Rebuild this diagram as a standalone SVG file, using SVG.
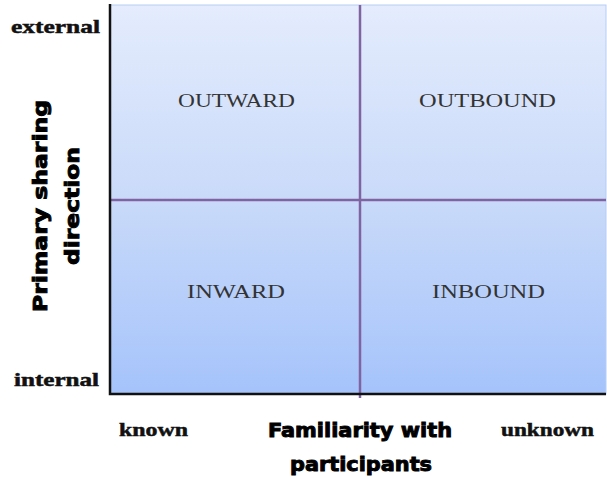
<svg xmlns="http://www.w3.org/2000/svg" width="607" height="479" viewBox="0 0 607 479">
<defs>
<linearGradient id="bg" x1="0" y1="0" x2="0" y2="1">
<stop offset="0" stop-color="#e4ecfd"/>
<stop offset="0.5" stop-color="#c9daf9"/>
<stop offset="1" stop-color="#a5c3fb"/>
</linearGradient>
</defs>
<style>
.tick{font-family:"Liberation Serif",serif;font-weight:bold;font-size:19px;fill:#111;stroke:#111;stroke-width:0.5}
.quad{font-family:"Liberation Serif",serif;font-size:19px;fill:#333}
.title{font-family:"DejaVu Sans",sans-serif;font-weight:900;font-size:19px;fill:#000;stroke:#000;stroke-width:0.9}
.div{stroke:#8064a2;stroke-width:2.5;fill:none}
.axis{stroke:#111;stroke-width:2.5;fill:none}
</style>
<rect x="110" y="5" width="496" height="389" fill="url(#bg)" stroke="#b8cdf2" stroke-width="1"/>
<g id="connectors">
<line class="div" x1="360" y1="5" x2="360" y2="398"/>
<line class="div" x1="110" y1="200" x2="606" y2="200"/>
<polyline class="axis" points="110,4 110,394 606,394"/>
</g>
<g id="q-outward"><text class="quad" x="178" y="107" textLength="117" lengthAdjust="spacingAndGlyphs">OUTWARD</text></g>
<g id="q-outbound"><text class="quad" x="419" y="107" textLength="137" lengthAdjust="spacingAndGlyphs">OUTBOUND</text></g>
<g id="q-inward"><text class="quad" x="187" y="298" textLength="98" lengthAdjust="spacingAndGlyphs">INWARD</text></g>
<g id="q-inbound"><text class="quad" x="432" y="298" textLength="113" lengthAdjust="spacingAndGlyphs">INBOUND</text></g>
<g id="labels">
<text class="tick" x="11" y="33" textLength="89" lengthAdjust="spacingAndGlyphs">external</text>
<text class="tick" x="14" y="386" textLength="85" lengthAdjust="spacingAndGlyphs">internal</text>
<text class="tick" x="119" y="436" textLength="69" lengthAdjust="spacingAndGlyphs">known</text>
<text class="tick" x="501" y="436" textLength="93" lengthAdjust="spacingAndGlyphs">unknown</text>
<text class="title" x="268" y="437" textLength="184" lengthAdjust="spacingAndGlyphs">Familiarity with</text>
<text class="title" x="290" y="471" textLength="142" lengthAdjust="spacingAndGlyphs">participants</text>
<text class="title" transform="translate(47,312) rotate(-90)" textLength="212" lengthAdjust="spacingAndGlyphs">Primary sharing</text>
<text class="title" transform="translate(79,265) rotate(-90)" textLength="118" lengthAdjust="spacingAndGlyphs">direction</text>
</g>
</svg>
